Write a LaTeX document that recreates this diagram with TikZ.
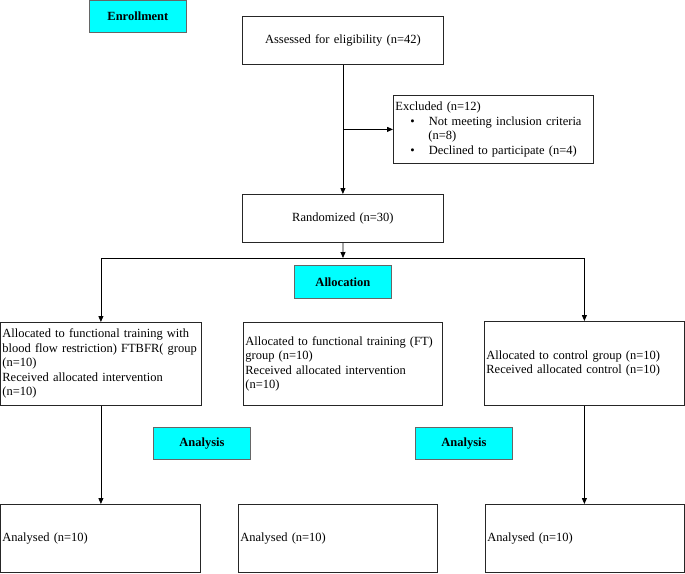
\documentclass[tikz,border=0pt]{standalone}
\usepackage{fontspec}
\setmainfont{Liberation Serif}
\usetikzlibrary{arrows.meta}
\definecolor{aqua}{RGB}{0,255,255}

\begin{document}
\begin{tikzpicture}[x=1pt,y=-1pt,>={Triangle[width=5pt,length=6pt]},line width=0.8pt]
\tikzstyle{every node}=[font=\fontsize{12.5}{14.5}\selectfont]
\tikzstyle{box}=[draw=black!85,fill=white,inner xsep=2pt,inner ysep=0pt,align=left,anchor=north west]
\tikzstyle{stage}=[draw=black!60,fill=aqua,font=\fontsize{12.5}{14.5}\selectfont\bfseries,inner sep=0pt,anchor=north west]

\useasboundingbox (0,0) rectangle (685,573);

\node[stage,minimum width=97,minimum height=32] (enrol) at (89,0) {Enrollment};
\node[box,align=center,text width=197,minimum height=48] (assess) at (242,16) {Assessed for eligibility (n=42)};
\node[box,text width=196,minimum height=68] (excl) at (393,95) {Excluded (n=12)\\
\hspace*{15pt}\textbullet\hspace*{14pt}Not meeting inclusion criteria\\
\hspace*{33pt}(n=8)\\
\hspace*{15pt}\textbullet\hspace*{14pt}Declined to participate (n=4)};
\node[box,align=center,text width=197,minimum height=48] (rand) at (242,194) {Randomized (n=30)};

\node[stage,minimum width=97,minimum height=33] (alloc) at (294,265) {Allocation};

\node[box,text width=197,minimum height=83] (ftbfr) at (0,322) {Allocated to functional training with\\blood flow restriction) FTBFR( group\\(n=10)\\Received allocated intervention\\(n=10)};
\node[box,text width=195,minimum height=83] (ft) at (243,322) {Allocated to functional training (FT)\\group (n=10)\\Received allocated intervention\\(n=10)};
\node[box,text width=196,minimum height=84] (ctrl) at (484,321) {Allocated to control group (n=10)\\Received allocated control (n=10)};

\node[stage,minimum width=97,minimum height=32] (ana1) at (153,427) {Analysis};
\node[stage,minimum width=97,minimum height=32] (ana2) at (415,427) {Analysis};

\node[box,text width=196,minimum height=68] (an1) at (0,504) {Analysed (n=10)};
\node[box,text width=195,minimum height=68] (an2) at (238,504) {Analysed (n=10)};
\node[box,text width=195,minimum height=68] (an3) at (485,504) {Analysed (n=10)};

\coordinate (split) at (assess.south |- excl.west);
\coordinate (hm) at (343,258);
\coordinate (hl) at (ftbfr.north |- hm);
\coordinate (hr) at (ctrl.north |- hm);

\draw[->] (assess) -- (rand);
\draw[->] (split) -- (excl.west);
\draw[->] (rand) -- (hm);
\draw (hl) -- (hr);
\draw[->] (hl) -- (ftbfr.north);
\draw[->] (hr) -- (ctrl.north);
\draw[->] (ftbfr.south) -- (ftbfr.south |- an1.north);
\draw[->] (ctrl.south) -- (ctrl.south |- an3.north);

\end{tikzpicture}
\end{document}
